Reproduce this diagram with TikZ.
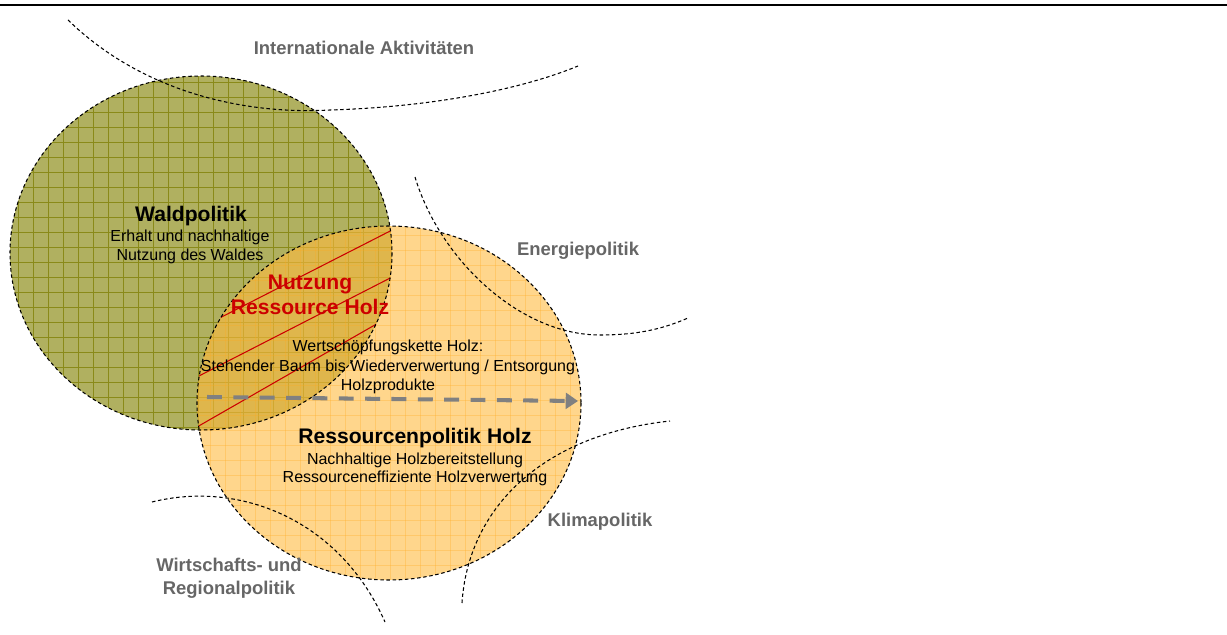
\documentclass[tikz,border=0pt]{standalone}
\usepackage{fontspec}
\setmainfont{Liberation Sans}
\usetikzlibrary{arrows.meta}
\definecolor{waldgruen}{RGB}{176,176,96}
\definecolor{waldgitter}{RGB}{138,138,25}
\definecolor{holzorange}{RGB}{255,187,63}
\definecolor{holzgitter}{RGB}{255,170,30}
\definecolor{grauschrift}{RGB}{102,102,102}
\definecolor{nutzungsrot}{RGB}{204,0,0}
\definecolor{pfeilgrau}{RGB}{128,128,128}

\begin{document}
\begin{tikzpicture}[x=0.02cm, y=-0.02cm,
  politik/.style={font=\fontsize{10.5}{13}\selectfont\bfseries,
    text=grauschrift, align=center, inner sep=0pt},
  kreistitel/.style={font=\fontsize{12}{14.2}\selectfont\bfseries,
    align=center, inner sep=0pt},
  kreistext/.style={font=\fontsize{9.1}{10.8}\selectfont, align=center,
    inner sep=0pt},
  umriss/.style={draw=black, line width=0.6pt, dash pattern=on 2pt off 1.5pt},
  gitterlinie/.style={line width=0.4pt},
  schraffur/.style={draw=nutzungsrot, line width=0.6pt},
  flusspfeil/.style={draw=pfeilgrau, line width=2.3pt,
    dash pattern=on 8.5pt off 6.5pt, -{Triangle[length=7pt,width=9pt]}}
]
\useasboundingbox (0,0) rectangle (1227,635);
% Kopflinie
\coordinate (linksoben) at (0,5);
\coordinate (rechtsoben) at (1227,5);
\draw[line width=0.8pt] (linksoben) -- (rechtsoben);

% Waldpolitik
\fill[waldgruen] (201,253) ellipse [x radius=191, y radius=177];
\begin{scope}
  \clip (201,253) ellipse [x radius=191, y radius=177];
  \foreach \gx in {3,18,...,400}
    \draw[gitterlinie, waldgitter] (\gx,70) -- (\gx,440);
  \foreach \gy in {67,82,...,440}
    \draw[gitterlinie, waldgitter] (0,\gy) -- (400,\gy);
\end{scope}

% Ressourcenpolitik Holz
\fill[holzorange, fill opacity=0.6] (389,403) ellipse [x radius=192, y radius=177];
\begin{scope}
  \clip (389,403) ellipse [x radius=192, y radius=177];
  \foreach \gx in {195,210,...,590}
    \draw[gitterlinie, holzgitter, opacity=0.3] (\gx,220) -- (\gx,590);
  \foreach \gy in {220,235,...,590}
    \draw[gitterlinie, holzgitter, opacity=0.3] (190,\gy) -- (590,\gy);
\end{scope}

% Schraffur der Schnittmenge
\begin{scope}
  \clip (201,253) ellipse [x radius=191, y radius=177];
  \clip (389,403) ellipse [x radius=192, y radius=177];
  \draw[schraffur] (200,328) -- (400,226);
  \draw[schraffur] (195,378) -- (400,273);
  \draw[schraffur] (190,431) -- (380,322);
\end{scope}

\draw[umriss] (201,253) ellipse [x radius=191, y radius=177];
\draw[umriss] (389,403) ellipse [x radius=192, y radius=177];

% Nachbarpolitiken (Boegen)
\draw[umriss] (68,20) .. controls (140,90) and (240,115) .. (330,110)
  .. controls (430,107) and (520,90) .. (578,66);
\draw[umriss] (415,177) .. controls (440,260) and (520,335) .. (600,335)
  .. controls (640,335) and (665,328) .. (688,318);
\draw[umriss] (462,603) .. controls (468,510) and (540,435) .. (670,421);
\draw[umriss] (152,502) .. controls (240,480) and (340,520) .. (385,622);

\node[politik] (intl) at (364,48) {Internationale Aktivitäten};
\node[politik] (energie) at (578,251) {Energiepolitik};
\node[politik] (klima) at (600,522) {Klimapolitik};
\node[politik] (wirtschaft) at (229,578) {Wirtschafts- und\\Regionalpolitik};

% Texte in den Kreisen
\node[kreistitel] (wald) at (191,216) {Waldpolitik};
\node[kreistext] (waldtext) at (190,247) {Erhalt und nachhaltige\\Nutzung des Waldes};
\node[kreistitel, text=nutzungsrot] (nutzung) at (310,295) {Nutzung\\Ressource Holz};
\node[kreistext, font=\fontsize{9.1}{11.1}\selectfont] (kette) at (388,367)
  {Wertschöpfungskette Holz:\\Stehender Baum bis Wiederverwertung / Entsorgung\\Holzprodukte};
\node[kreistitel] (ressource) at (415,438) {Ressourcenpolitik Holz};
\node[kreistext, font=\fontsize{9.1}{10.2}\selectfont] (ressourcetext) at (415,469)
  {Nachhaltige Holzbereitstellung\\Ressourceneffiziente Holzverwertung};

% Wertschoepfungspfeil
\coordinate (pfeilstart) at (207,397);
\coordinate (pfeilende) at (578,401);
\draw[flusspfeil] (pfeilstart) -- (pfeilende);
\end{tikzpicture}
\end{document}
